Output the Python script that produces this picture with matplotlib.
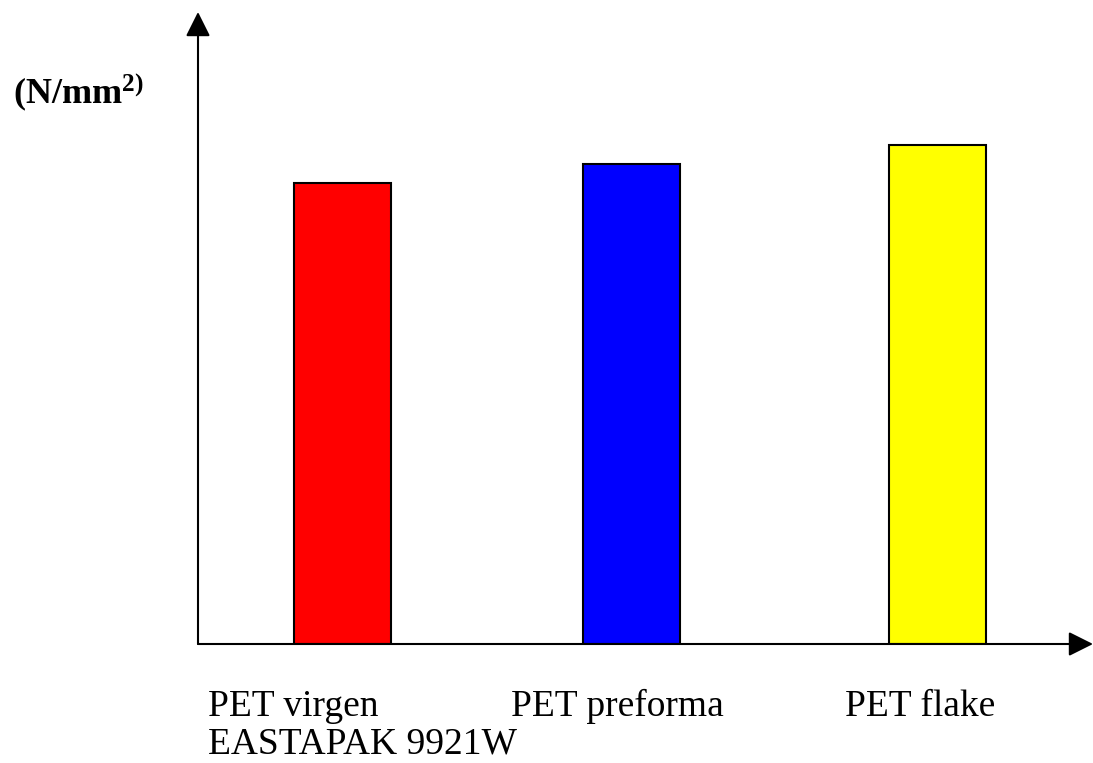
import matplotlib
matplotlib.use("Agg")
import matplotlib.pyplot as plt

# data (no scale shown, heights in axis units)
categories = ["PET virgen\nEASTAPAK 9921W", "PET preforma", "PET flake"]
values = [461, 480, 499]
colors = ["#ff0000", "#0000ff", "#ffff00"]

W, H = 1093, 763
plt.rcParams["font.family"] = ["Liberation Serif", "DejaVu Serif"]
plt.rcParams["mathtext.fontset"] = "custom"
plt.rcParams["mathtext.rm"] = "Liberation Serif"
plt.rcParams["mathtext.bf"] = "Liberation Serif:bold"


def fx(px):
    return px / W


def fy(py):
    return 1 - py / H


fig = plt.figure(figsize=(W / 100, H / 100), dpi=100)
# axes origin at (198, 644) px, arrows end at x=1093, y=12
ax = fig.add_axes([fx(198), fy(644), fx(1093) - fx(198), fy(12) - fy(644)])
ax.set_xlim(0, 895)
ax.set_ylim(0, 632)

xpos = [144.5, 433, 740]
ax.bar(xpos, values, width=97, color=colors, edgecolor="black", linewidth=1.5, zorder=2)

for s in ax.spines.values():
    s.set_visible(False)
ax.set_xticks([])
ax.set_yticks([])

arrow = dict(arrowstyle="-|>,head_length=1.0,head_width=0.5", mutation_scale=15,
             lw=1.5, color="black", shrinkA=0, shrinkB=0)
ax.annotate("", xy=(0, 1), xytext=(0, 0), xycoords="axes fraction", arrowprops=arrow)
ax.annotate("", xy=(1, 0), xytext=(0, 0), xycoords="axes fraction", arrowprops=arrow)

# category labels below the axis
label_x = [208, 511, 845]
for x, lab in zip(label_x, categories):
    for i, line in enumerate(lab.split("\n")):
        fig.text(fx(x), fy(716 + 38 * i), line, fontsize=27, ha="left", va="baseline")

fig.text(fx(13), fy(103), r"$\mathbf{(N/mm^{2)}}$", fontsize=26, ha="left", va="baseline")

fig.savefig("out.png", dpi=100)
